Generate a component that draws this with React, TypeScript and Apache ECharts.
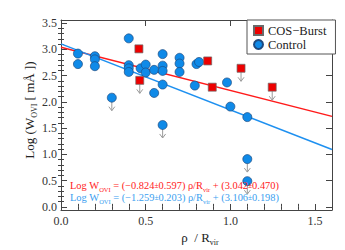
import React, { useEffect, useRef } from "react";
import * as echarts from "echarts";

// Axis ticks
const xTickValues = [0, 0.5, 1.0, 1.5];
const xMinorValues = [0.1, 0.2, 0.3, 0.4, 0.6, 0.7, 0.8, 0.9, 1.1, 1.2, 1.3, 1.4, 1.6];
const yTickValues = [0, 0.5, 1.0, 1.5, 2.0, 2.5, 3.0, 3.5];
const yMinorValues = [0.1, 0.2, 0.3, 0.4, 0.6, 0.7, 0.8, 0.9, 1.1, 1.2, 1.3, 1.4, 1.6, 1.7, 1.8, 1.9, 2.1, 2.2, 2.3, 2.4, 2.6, 2.7, 2.8, 2.9, 3.1, 3.2, 3.3, 3.4];

// Control sample (detections)
const controlX = [0.10, 0.10, 0.20, 0.20, 0.20, 0.40, 0.40, 0.40, 0.40, 0.47, 0.50, 0.50, 0.55, 0.55, 0.60, 0.60, 0.60, 0.60, 0.70, 0.70, 0.70, 0.79, 0.80, 0.815, 0.98, 1.00, 1.10];
const controlY = [2.92, 2.72, 2.87, 2.81, 2.68, 3.21, 2.70, 2.64, 2.57, 2.64, 2.71, 2.56, 2.61, 2.17, 2.91, 2.69, 2.59, 2.33, 2.84, 2.73, 2.57, 2.31, 2.72, 2.76, 2.37, 1.91, 1.71];
// Control sample (upper limits)
const controlLimX = [0.30, 0.60, 1.10, 1.10];
const controlLimY = [2.08, 1.56, 0.91, 0.49];

// COS-Burst sample (detections)
const burstX = [0.46, 0.866, 0.893];
const burstY = [3.01, 2.78, 2.28];
// COS-Burst sample (upper limits)
const burstLimX = [0.465, 1.063, 1.247];
const burstLimY = [2.41, 2.64, 2.28];

// Fits: [slope, intercept]
const burstFit = [-0.824, 3.042];
const controlFit = [-1.259, 3.106];

const X_MIN = 0;
const X_MAX = 1.6;
const Y_MIN = -0.06;
const Y_MAX = 3.56;

const FONT = "'Liberation Serif', 'DejaVu Serif', serif";
const RED = "#ff1a1a";
const BLUE = "#1e90f0";
const AXIS = "#444";

function pairs(xs: number[], ys: number[]) {
  return xs.map((x, i) => [x, ys[i]]);
}

export default function App() {
  const ref = useRef<HTMLDivElement>(null);
  useEffect(() => {
    if (!ref.current) return;
    const chart = echarts.init(ref.current, undefined, { renderer: "svg" });

    const xAxisBase = {
      type: "value",
      min: X_MIN,
      max: X_MAX,
      splitLine: { show: false },
      axisLine: { show: true, onZero: false, lineStyle: { color: AXIS, width: 1 } },
    };
    const yAxisBase = {
      type: "value",
      min: Y_MIN,
      max: Y_MAX,
      splitLine: { show: false },
      axisLine: { show: true, onZero: false, lineStyle: { color: AXIS, width: 1 } },
    };

    const arrowRender = (params: any, api: any) => {
      const p = api.coord([api.value(0), api.value(1)]);
      const x = p[0];
      const y = p[1];
      const st = { stroke: "#9a9a9a", lineWidth: 1, fill: "none" };
      return {
        type: "group",
        children: [
          { type: "line", shape: { x1: x, y1: y + 4, x2: x, y2: y + 13 }, style: st },
          { type: "polyline", shape: { points: [[x - 3, y + 9], [x, y + 13], [x + 3, y + 9]] }, style: st },
        ],
      };
    };

    const subRich = (color: string, size: number, subSize: number) => ({
      n: { fontFamily: FONT, fontSize: size, fill: color, lineHeight: size + 5 },
      s: { fontFamily: FONT, fontSize: subSize, fill: color, verticalAlign: "bottom", lineHeight: subSize },
      p: { fontFamily: FONT, fontSize: size - 3, fill: color, lineHeight: size + 5 },
    });

    const option: any = {
      animation: false,
      textStyle: { fontFamily: FONT },
      grid: { left: 61, right: 13, top: 20, bottom: 40, show: false },
      xAxis: [
        {
          ...xAxisBase,
          position: "bottom",
          axisTick: { show: true, inside: true, length: 6, customValues: xTickValues, lineStyle: { color: AXIS } },
          axisLabel: {
            show: true,
            customValues: xTickValues,
            formatter: (v: number) => v.toFixed(1),
            fontFamily: FONT,
            fontSize: 12,
            color: "#333",
            margin: 5,
          },
        },
        {
          ...xAxisBase,
          position: "bottom",
          axisLine: { show: false },
          axisTick: { show: true, inside: true, length: 3, customValues: xMinorValues, lineStyle: { color: AXIS } },
          axisLabel: { show: false },
        },
        {
          ...xAxisBase,
          position: "top",
          axisTick: { show: true, inside: true, length: 6, customValues: xTickValues, lineStyle: { color: AXIS } },
          axisLabel: { show: false },
        },
        {
          ...xAxisBase,
          position: "top",
          axisLine: { show: false },
          axisTick: { show: true, inside: true, length: 3, customValues: xMinorValues, lineStyle: { color: AXIS } },
          axisLabel: { show: false },
        },
      ],
      yAxis: [
        {
          ...yAxisBase,
          position: "left",
          axisTick: { show: true, inside: true, length: 6, customValues: yTickValues, lineStyle: { color: AXIS } },
          axisLabel: {
            show: true,
            customValues: yTickValues,
            formatter: (v: number) => v.toFixed(1),
            fontFamily: FONT,
            fontSize: 12,
            color: "#333",
            margin: 4,
          },
        },
        {
          ...yAxisBase,
          position: "left",
          axisLine: { show: false },
          axisTick: { show: true, inside: true, length: 3, customValues: yMinorValues, lineStyle: { color: AXIS } },
          axisLabel: { show: false },
        },
        {
          ...yAxisBase,
          position: "right",
          axisTick: { show: true, inside: true, length: 6, customValues: yTickValues, lineStyle: { color: AXIS } },
          axisLabel: { show: false },
        },
        {
          ...yAxisBase,
          position: "right",
          axisLine: { show: false },
          axisTick: { show: true, inside: true, length: 3, customValues: yMinorValues, lineStyle: { color: AXIS } },
          axisLabel: { show: false },
        },
      ],
      legend: {
        data: [
          { name: "COS−Burst", icon: "rect" },
          { name: "Control", icon: "circle" },
        ],
        orient: "vertical",
        left: 247,
        top: 20,
        padding: [4, 9, 3, 6],
        itemGap: 1,
        itemWidth: 9,
        itemHeight: 9,
        backgroundColor: "#fff",
        borderColor: "#555",
        borderWidth: 1,
        borderRadius: 0,
        textStyle: { fontFamily: FONT, fontSize: 12.5, color: "#222", padding: [0, 0, 0, 0] },
        z: 10,
      },
      series: [
        {
          type: "line",
          name: "burstFit",
          data: [
            [X_MIN, burstFit[1] + burstFit[0] * X_MIN],
            [X_MAX, burstFit[1] + burstFit[0] * X_MAX],
          ],
          symbol: "none",
          lineStyle: { color: RED, width: 1.5 },
          silent: true,
          z: 2,
        },
        {
          type: "line",
          name: "controlFit",
          data: [
            [X_MIN, controlFit[1] + controlFit[0] * X_MIN],
            [X_MAX, controlFit[1] + controlFit[0] * X_MAX],
          ],
          symbol: "none",
          lineStyle: { color: BLUE, width: 1.5 },
          silent: true,
          z: 2,
        },
        {
          type: "custom",
          name: "limits",
          renderItem: arrowRender,
          data: [...pairs(controlLimX, controlLimY), ...pairs(burstLimX, burstLimY)],
          silent: true,
          z: 3,
        },
        {
          type: "scatter",
          name: "Control",
          data: [...pairs(controlX, controlY), ...pairs(controlLimX, controlLimY)],
          symbol: "circle",
          symbolSize: 9,
          itemStyle: { color: "#0f8ae8", borderColor: "#1d4a80", borderWidth: 0.7, opacity: 1 },
          z: 4,
        },
        {
          type: "scatter",
          name: "COS−Burst",
          data: [...pairs(burstX, burstY), ...pairs(burstLimX, burstLimY)],
          symbol: "rect",
          symbolSize: 8,
          itemStyle: { color: "#ee0000", borderColor: "#6a6a6a", borderWidth: 0.7, opacity: 1 },
          z: 5,
        },
      ],
      graphic: [
        {
          type: "text",
          x: 29,
          y: 110,
          rotation: Math.PI / 2,
          style: {
            text: "{n|Log (W}{s|OVI}{n| [ mÅ ])}",
            rich: subRich("#222", 13, 8),
            align: "center",
            verticalAlign: "middle",
          },
        },
        {
          type: "text",
          x: 200,
          y: 237,
          style: {
            text: "{n|ρ  / R}{s|vir}",
            rich: subRich("#222", 13, 8),
            align: "center",
            verticalAlign: "middle",
          },
        },
        {
          type: "text",
          x: 70,
          y: 185,
          z: 20,
          style: {
            text: "{n|Log W}{s|OVI}{n| = (−0.824}{p|±}{n|0.597) ρ/R}{s|vir}{n| + (3.042}{p|±}{n|0.470)}",
            rich: subRich(RED, 10.4, 6.5),
            align: "left",
            verticalAlign: "middle",
          },
        },
        {
          type: "text",
          x: 70,
          y: 197,
          z: 20,
          style: {
            text: "{n|Log W}{s|OVI}{n| = (−1.259}{p|±}{n|0.203) ρ/R}{s|vir}{n| + (3.106}{p|±}{n|0.198)}",
            rich: subRich("#3aa0f0", 10.4, 6.5),
            align: "left",
            verticalAlign: "middle",
          },
        },
      ],
    };

    chart.setOption(option);
    return () => chart.dispose();
  }, []);

  return (
    <div
      ref={ref}
      style={{ position: "fixed", left: 0, top: 0, width: 345, height: 250, background: "#fff" }}
    />
  );
}
